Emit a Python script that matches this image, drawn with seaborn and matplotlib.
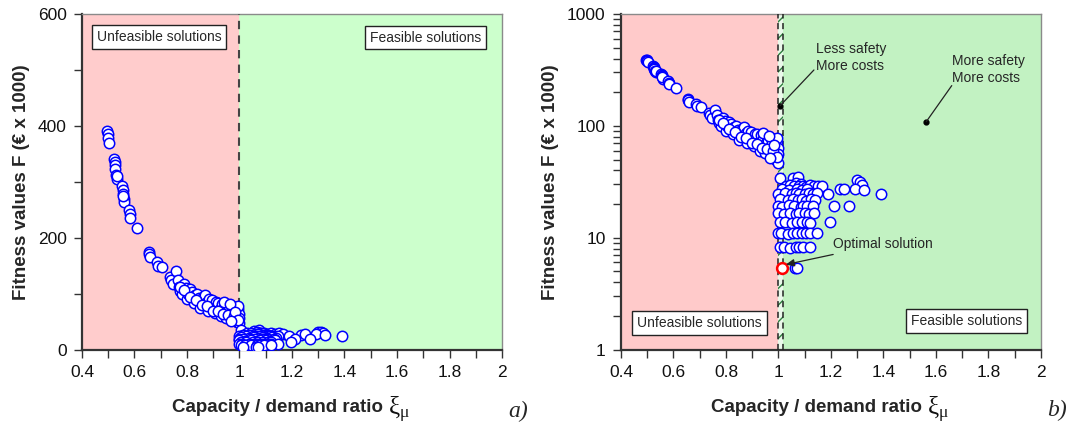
import numpy as np
import matplotlib
matplotlib.use("Agg")
import matplotlib.pyplot as plt
import matplotlib.ticker as mticker
import seaborn as sns

sns.set_theme(style="white")
plt.rcParams["font.family"] = ["Liberation Sans", "DejaVu Sans"]
plt.rcParams["mathtext.fontset"] = "custom"
plt.rcParams["mathtext.rm"] = "Liberation Serif"
plt.rcParams["mathtext.it"] = "Liberation Serif"

# Unfeasible solutions (capacity/demand ratio < 1), fitness in k€
unfeas_x = [0.497, 0.498, 0.500, 0.502,
            0.522, 0.524, 0.525, 0.527, 0.530, 0.532, 0.535,
            0.552, 0.555, 0.557, 0.560, 0.560, 0.558,
            0.580, 0.582, 0.584, 0.610,
            0.655, 0.657, 0.660, 0.685, 0.690, 0.705,
            0.735, 0.740, 0.745, 0.760, 0.765, 0.768,
            0.775, 0.780, 0.790, 0.795, 0.800, 0.805, 0.810, 0.815,
            0.820, 0.825, 0.830, 0.840, 0.845, 0.850, 0.855, 0.860,
            0.865, 0.870, 0.875, 0.880, 0.885, 0.890, 0.895, 0.900,
            0.905, 0.910, 0.915, 0.920, 0.925, 0.930, 0.935, 0.940,
            0.945, 0.950, 0.955, 0.960, 0.965, 0.970, 0.975, 0.980,
            0.985, 0.988, 0.990, 0.992, 0.995, 0.997, 0.998, 0.999, 0.996,
            0.772, 0.788, 0.812, 0.835, 0.858, 0.878, 0.898, 0.918,
            0.938, 0.958, 0.978, 0.942, 0.962, 0.982, 0.993, 0.968]
unfeas_y = [390, 385, 378, 370,
            340, 336, 330, 322, 312, 305, 310,
            292, 285, 278, 270, 263, 275,
            250, 243, 236, 217,
            175, 171, 165, 157, 150, 148,
            130, 124, 118, 140, 125, 112,
            105, 100, 118, 110, 90, 100, 108, 96,
            103, 84, 98, 100, 92, 75, 88, 94,
            82, 97, 86, 70, 90, 80, 88, 74,
            66, 85, 78, 84, 72, 60, 82, 76,
            68, 57, 80, 73, 63, 78, 70, 55,
            76, 66, 60, 50, 72, 64, 56, 47, 78,
            112, 106, 94, 89, 80, 78, 70, 69,
            64, 62, 60, 86, 81, 68, 53, 52]

# Feasible solutions (capacity/demand ratio >= 1)
feas_x = [1.007, 1.055, 1.075,
          1.065, 1.085, 1.300, 1.310,
          1.030, 1.045, 1.060, 1.080, 1.095, 1.105, 1.120, 1.135, 1.150, 1.165, 1.320,
          1.015, 1.040, 1.070, 1.090, 1.110, 1.235, 1.250, 1.290, 1.325,
          1.000, 1.025, 1.050, 1.065, 1.080, 1.100, 1.115, 1.130, 1.145, 1.190, 1.390,
          1.005, 1.035, 1.055, 1.075, 1.090, 1.105, 1.125, 1.140,
          1.000, 1.015, 1.040, 1.060, 1.085, 1.095, 1.110, 1.130, 1.210, 1.270,
          1.000, 1.020, 1.045, 1.065, 1.080, 1.100, 1.115, 1.135,
          1.005, 1.025, 1.050, 1.070, 1.090, 1.110, 1.120, 1.195,
          1.000, 1.010, 1.035, 1.055, 1.070, 1.090, 1.105, 1.120, 1.145,
          1.007, 1.020, 1.045, 1.065, 1.080, 1.095, 1.120,
          1.062, 1.070]
feas_y = [34.5, 34.0, 34.8,
          31.0, 30.5, 32.5, 31.5,
          29.0, 29.5, 28.8, 29.2, 29.0, 28.5, 29.3, 28.8, 29.0, 28.7, 29.5,
          27.0, 26.8, 27.2, 26.5, 27.0, 27.0, 27.2, 27.5, 26.8,
          24.8, 25.0, 24.5, 25.2, 24.8, 24.6, 25.0, 24.8, 25.1, 24.8, 24.8,
          22.0, 21.6, 22.2, 21.8, 22.0, 21.5, 22.1, 21.8,
          19.2, 19.0, 19.4, 19.2, 18.9, 19.3, 19.1, 19.2, 19.2, 19.2,
          16.5, 16.3, 16.6, 16.4, 16.7, 16.5, 16.3, 16.6,
          13.7, 13.8, 13.6, 13.7, 13.8, 13.7, 13.6, 13.8,
          10.9, 11.0, 10.8, 11.0, 10.9, 11.0, 10.9, 11.0, 10.9,
          8.2, 8.2, 8.1, 8.2, 8.3, 8.2, 8.2,
          5.4, 5.4]

# Optimal solution
opt_x = [1.015]
opt_y = [5.4]

PINK_A, GREEN_A = "#ffcccc", "#ccffcc"
PINK_B, GREEN_B = "#ffcaca", "#c2f2c2"
MK = dict(color="white", edgecolor="blue", s=56, linewidth=1.1, zorder=5)

fig = plt.figure(figsize=(10.69, 4.29), dpi=100)
axa = fig.add_axes([0.0767, 0.1848, 0.3929, 0.7832])
axb = fig.add_axes([0.5809, 0.1853, 0.3929, 0.7820])


def style_axes(ax):
    ax.set_xlim(0.4, 2.0)
    ax.xaxis.set_major_locator(mticker.MultipleLocator(0.2))
    ax.xaxis.set_minor_locator(mticker.MultipleLocator(0.1))
    ax.xaxis.set_major_formatter(mticker.FuncFormatter(lambda v, p: f"{v:g}"))
    ax.tick_params(which="both", direction="out", length=6, width=1.0,
                   color="#333333", bottom=True, left=True, top=False, right=False)
    ax.tick_params(which="major", labelsize=12.5, pad=5, labelcolor="#111111")
    for side in ("bottom", "left"):
        ax.spines[side].set_color("#333333")
        ax.spines[side].set_linewidth(1.6)
    for side in ("top", "right"):
        ax.spines[side].set_color("#8a8a8a")
        ax.spines[side].set_linewidth(1.0)
    ax.set_xlabel("Capacity / demand ratio", fontsize=13.5, fontweight="bold")
    ax.xaxis.set_label_coords(0.465, -0.147)
    ax.annotate(r"$\mathrm{\xi_{\mu}}$", xy=(1.0, 0.0), xycoords=ax.xaxis.label,
                xytext=(4, -6.5), textcoords="offset points", fontsize=18,
                ha="left", va="bottom", color="#111111")
    ax.set_ylabel("Fitness values F (€ x 1000)", fontsize=13.5, fontweight="bold",
                  labelpad=6)


def box_text(ax, x, y, s):
    ax.text(x, y, s, transform=ax.transAxes, ha="center", va="center", fontsize=10,
            zorder=8, bbox=dict(boxstyle="square,pad=0.35", fc="white", ec="#222222", lw=1.0))


# ---- a) linear scale ----
axa.axvspan(0.4, 1.0, color=PINK_A, zorder=0, lw=0)
axa.axvspan(1.0, 2.0, color=GREEN_A, zorder=0, lw=0)
axa.axvline(1.0, color="#444444", ls=(0, (4, 3)), lw=1.5, zorder=3)
sns.scatterplot(x=unfeas_x, y=unfeas_y, ax=axa, **MK)
sns.scatterplot(x=feas_x, y=feas_y, ax=axa, **MK)
sns.scatterplot(x=opt_x, y=opt_y, ax=axa, **MK)
axa.set_ylim(0, 600)
axa.yaxis.set_major_locator(mticker.MultipleLocator(200))
axa.yaxis.set_minor_locator(mticker.MultipleLocator(100))
style_axes(axa)
box_text(axa, 0.183, 0.930, "Unfeasible solutions")
box_text(axa, 0.818, 0.929, "Feasible solutions")

# ---- b) logarithmic scale ----
axb.set_yscale("log")
axb.axvspan(0.4, 1.0, color=PINK_B, zorder=0, lw=0)
axb.axvspan(1.0, 2.0, color=GREEN_B, zorder=0, lw=0)
axb.axvspan(0.999, 1.018, facecolor="#eaf8ea", edgecolor="#2f7f3f", hatch="//",
            lw=0, zorder=1)
for xv in (0.999, 1.018):
    axb.axvline(xv, color="#222222", ls=(0, (4, 3)), lw=1.1, zorder=3)
sns.scatterplot(x=unfeas_x, y=unfeas_y, ax=axb, **MK)
sns.scatterplot(x=feas_x, y=feas_y, ax=axb, **MK)
sns.scatterplot(x=opt_x, y=opt_y, ax=axb, color="white", edgecolor="red", s=60,
                linewidth=1.8, zorder=6)
axb.set_ylim(1, 1000)
axb.yaxis.set_major_locator(mticker.LogLocator(base=10, numticks=10))
axb.yaxis.set_minor_locator(mticker.LogLocator(base=10, subs=np.arange(2, 10), numticks=10))
axb.yaxis.set_major_formatter(mticker.FuncFormatter(lambda v, p: f"{v:g}"))
axb.yaxis.set_minor_formatter(mticker.NullFormatter())
style_axes(axb)

# annotations
axb.plot([1.007], [152], "o", color="black", ms=3.5, zorder=7)
axb.plot([1.135, 1.007], [316, 152], color="#222222", lw=0.9, zorder=7)
axb.text(1.143, 560, "Less safety\nMore costs", fontsize=10, va="top", ha="left",
         linespacing=1.25, zorder=8)
axb.plot([1.563], [109], "o", color="black", ms=3.5, zorder=7)
axb.plot([1.66, 1.563], [229, 109], color="#222222", lw=0.9, zorder=7)
axb.text(1.662, 440, "More safety\nMore costs", fontsize=10, va="top", ha="left",
         linespacing=1.25, zorder=8)
axb.annotate("Optimal solution", xy=(1.028, 5.75), xytext=(1.207, 8.8),
             fontsize=10, va="center", ha="left", zorder=8,
             arrowprops=dict(arrowstyle="-|>,head_length=0.5,head_width=0.22",
                             color="#222222", lw=0.9, shrinkA=1, shrinkB=0))
box_text(axb, 0.187, 0.080, "Unfeasible solutions")
box_text(axb, 0.823, 0.085, "Feasible solutions")

# panel tags
fig.text(518 / 1069, 1 - 411 / 429, "a)", fontsize=17, style="italic",
         family="Liberation Serif", ha="center", va="center")
fig.text(1057 / 1069, 1 - 410 / 429, "b)", fontsize=17, style="italic",
         family="Liberation Serif", ha="center", va="center")

fig.savefig("out.png", dpi=100)
